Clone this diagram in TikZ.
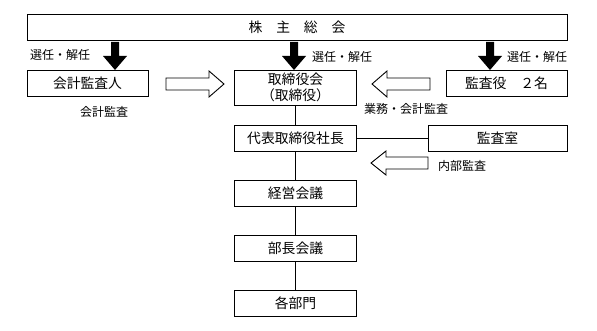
\documentclass[tikz,border=0pt]{standalone}
\usepackage{fontspec}
\setmainfont{Noto Sans CJK JP}
\begin{document}
\begin{tikzpicture}[x=1pt,y=-1pt,
  box/.style={draw,line width=0.9pt,minimum height=26pt,inner sep=0pt,font=\fontsize{13.8}{15.5}\selectfont},
  lbl/.style={font=\fontsize{12}{14}\selectfont,inner sep=0pt},
  ln/.style={line width=0.9pt},
  hollow/.style={draw,line width=0.9pt,fill=white}]
\useasboundingbox (0,0) rectangle (597,331);
% boxes
\node[box,minimum width=540pt] (gm) at (297,27) {株　主　総　会};
\node[box,minimum width=121pt] (ka) at (87.5,83) {会計監査人};
\node[box,minimum width=122pt,minimum height=35pt,align=center] (bd) at (295.5,87.5) {取締役会\\（取締役）};
\node[box,minimum width=121pt] (ak) at (506.5,83) {監査役　２名};
\node[box,minimum width=122pt] (ceo) at (295.5,138) {代表取締役社長};
\node[box,minimum width=139pt] (ia) at (497.5,138) {監査室};
\node[box,minimum width=122pt] (km) at (295.5,193) {経営会議};
\node[box,minimum width=122pt] (bm) at (295.5,248) {部長会議};
\node[box,minimum width=122pt] (dp) at (295.5,303) {各部門};
% connectors
\draw[ln] (bd.south) -- (ceo.north);
\draw[ln] (ceo.south) -- (km.north);
\draw[ln] (km.south) -- (bm.north);
\draw[ln] (bm.south) -- (dp.north);
\draw[ln] (ceo.east) -- (ia.west);
% filled arrows
\foreach \cx in {115,294,490}{
  \fill (\cx-4,42) -- (\cx+4,42) -- (\cx+4,56) -- (\cx+12,56) -- (\cx,70) -- (\cx-12,56) -- (\cx-4,56) -- cycle;
}
% hollow arrows
\draw[hollow] (166,78) -- (209,78) -- (209,71) -- (224,84) -- (209,97) -- (209,90) -- (166,90) -- cycle;
\draw[hollow] (430,78) -- (387,78) -- (387,71) -- (372,84) -- (387,97) -- (387,90) -- (430,90) -- cycle;
\draw[hollow] (428,157) -- (386,157) -- (386,151) -- (371,163) -- (386,175) -- (386,169) -- (428,169) -- cycle;
% labels
\node[lbl,anchor=west] (l1) at (30,55) {選任・解任};
\node[lbl,anchor=west] (l2) at (312,57) {選任・解任};
\node[lbl,anchor=west] (l3) at (507,57) {選任・解任};
\node[lbl] (l4) at (104,112) {会計監査};
\node[lbl,anchor=west] (l5) at (364,109) {業務・会計監査};
\node[lbl,anchor=west] (l6) at (438,166) {内部監査};
\end{tikzpicture}
\end{document}
